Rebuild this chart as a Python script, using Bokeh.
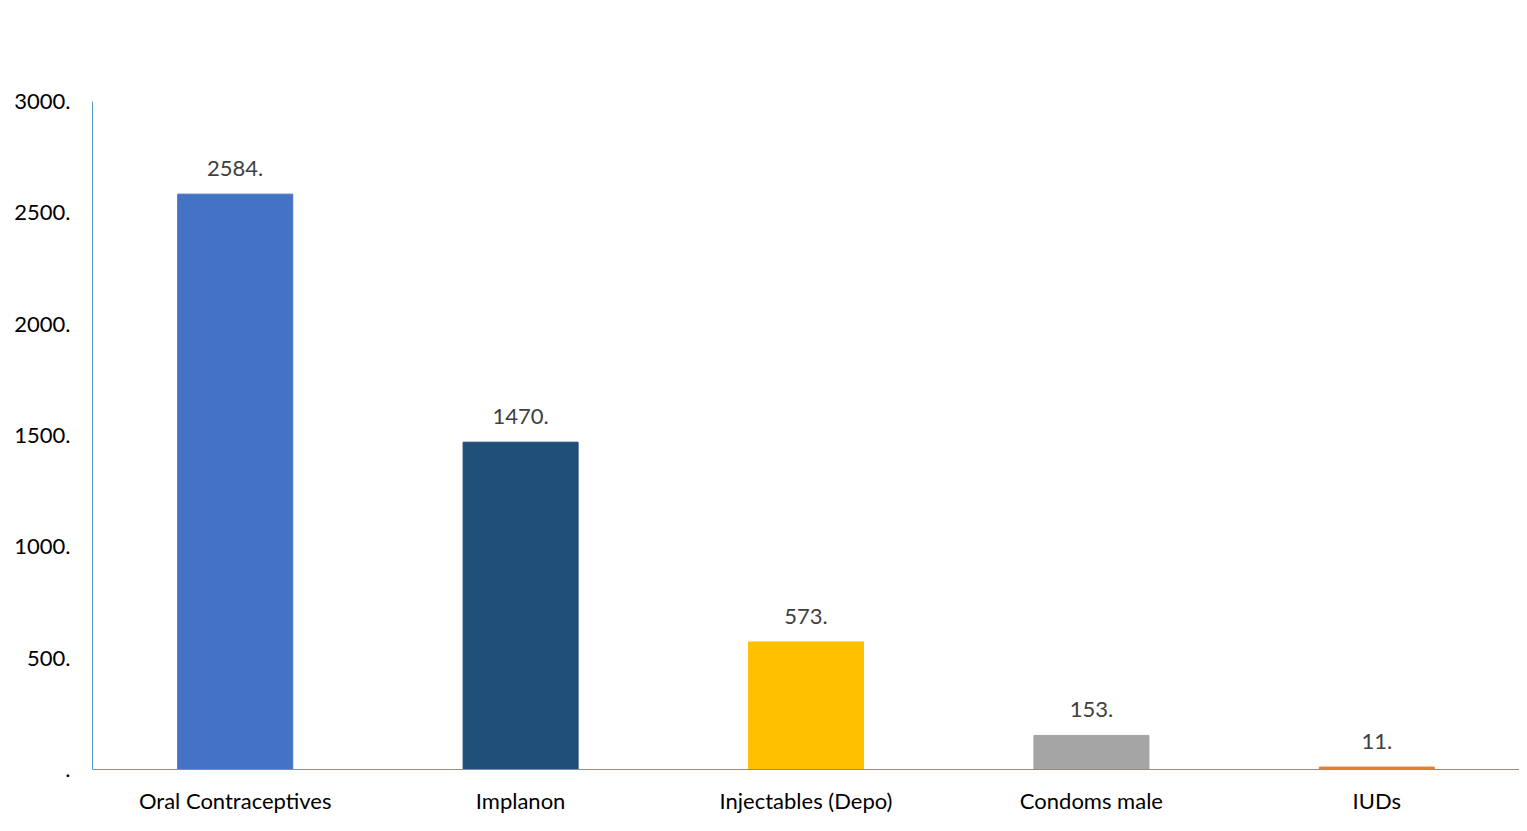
from bokeh.plotting import figure
from bokeh.models import Range1d, FixedTicker, CustomJSTickFormatter, ColumnDataSource, LabelSet
from bokeh.core.properties import value
from bokeh.embed import file_html
from bokeh.resources import INLINE

categories = ["Oral Contraceptives", "Implanon", "Injectables (Depo)", "Condoms male", "IUDs"]
values = [2584, 1470, 573, 153, 11]
colors = ["#4472C4", "#1F4E79", "#FFC000", "#A5A5A5", "#ED7D31"]
labels = [f"{v}." for v in values]
y_ticks = [0, 500, 1000, 1500, 2000, 2500, 3000]

FONT = "Lato"

src = ColumnDataSource(dict(x=categories, top=values, color=colors, label=labels))

p = figure(x_range=categories, y_range=Range1d(0, 3000), width=1519, height=823,
           output_backend="svg", toolbar_location=None,
           min_border_left=92, min_border_right=0, min_border_top=101, min_border_bottom=54)

p.vbar(x="x", top="top", width=0.403, color="color", source=src)

p.add_layout(LabelSet(x="x", y="top", text="label", source=src, text_align="center",
                      text_baseline="bottom", y_offset=18, text_font=value(FONT),
                      text_font_size="22px", text_color="#404040"))

p.xgrid.visible = False
p.ygrid.visible = False
p.outline_line_color = None

p.yaxis.ticker = FixedTicker(ticks=y_ticks)
p.yaxis.formatter = CustomJSTickFormatter(code="return tick == 0 ? '.' : tick + '.';")
for ax in (p.xaxis[0], p.yaxis[0]):
    ax.axis_line_color = "#5B9BD5"
    ax.axis_line_width = 1
    ax.major_tick_line_color = None
    ax.minor_tick_line_color = None
    ax.major_label_text_font = FONT
    ax.major_label_text_font_size = "22px"
    ax.major_label_text_color = "#000000"
p.yaxis.major_label_standoff = 16
p.xaxis.major_label_standoff = 11

open("out.html", "w").write(file_html(p, INLINE))
